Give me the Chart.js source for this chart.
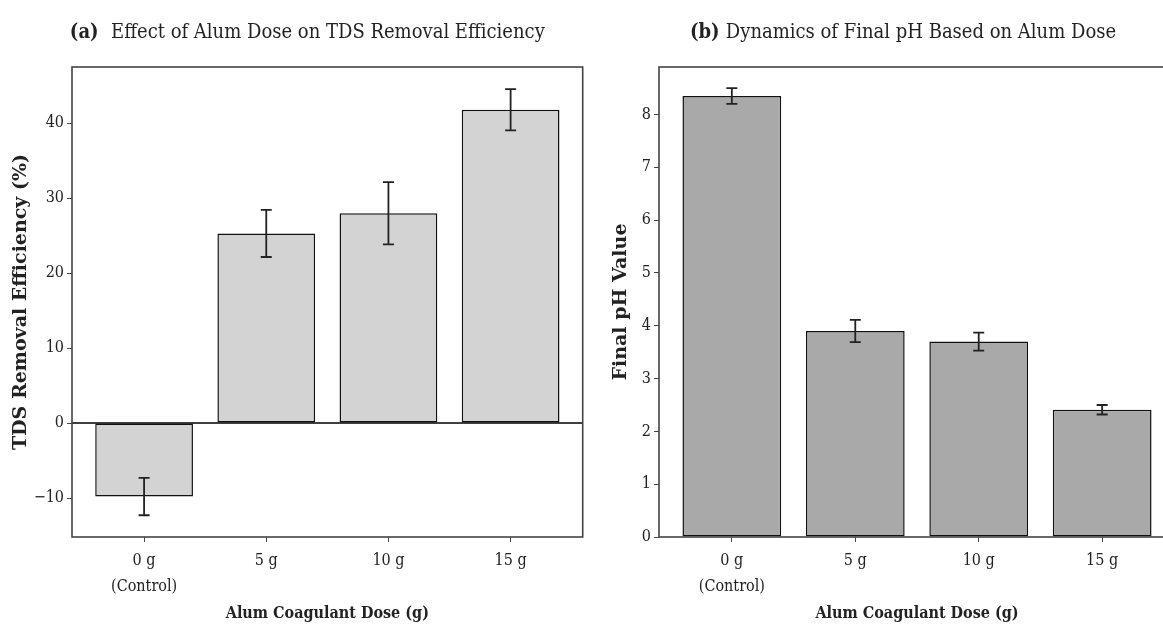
<!DOCTYPE html>
<html>
<head>
<meta charset="utf-8">
<script src="https://cdn.jsdelivr.net/npm/chart.js@4"></script>
<style>
  html, body { margin: 0; padding: 0; background: #fff; overflow: hidden; width: 1163px; height: 626px; }
  #tds-chart { position: absolute; left: 0; top: 0; }
  #ph-chart { position: absolute; left: 590px; top: 0; }
</style>
</head>
<body>
<canvas id="tds-chart" width="590" height="626"></canvas>
<canvas id="ph-chart" width="600" height="626"></canvas>
<script>
const doseLabels = [['0 g', '(Control)'], '5 g', '10 g', '15 g'];
const tdsRemoval = [-9.8, 25.3, 28.0, 41.8];
const tdsError = [2.5, 3.15, 4.15, 2.75];
const finalPh = [8.35, 3.9, 3.7, 2.41];
const phError = [0.15, 0.21, 0.17, 0.09];

const FONT = "'DejaVu Serif Condensed', 'Liberation Serif', serif";
const INK = '#222';

// frame, zero line, error bars and the panel title
const decorPlugin = {
    id: 'decor',
    afterDatasetsDraw(chart, args, opts) {
        const ctx = chart.ctx;
        const area = chart.chartArea;
        const xs = chart.scales.x, ys = chart.scales.y;
        ctx.save();
        if (opts.zeroLine) {
            const y0 = ys.getPixelForValue(0);
            ctx.strokeStyle = '#000';
            ctx.lineWidth = 1.5;
            ctx.beginPath();
            ctx.moveTo(area.left, y0);
            ctx.lineTo(area.right, y0);
            ctx.stroke();
        }
        ctx.strokeStyle = INK;
        ctx.lineWidth = 1.8;
        opts.values.forEach((v, i) => {
            const x = xs.getPixelForValue(i);
            const top = ys.getPixelForValue(v + opts.errors[i]);
            const bot = ys.getPixelForValue(v - opts.errors[i]);
            ctx.beginPath();
            ctx.moveTo(x, top); ctx.lineTo(x, bot);
            ctx.moveTo(x - 5.5, top); ctx.lineTo(x + 5.5, top);
            ctx.moveTo(x - 5.5, bot); ctx.lineTo(x + 5.5, bot);
            ctx.stroke();
        });
        ctx.strokeStyle = '#444';
        ctx.lineWidth = 1.6;
        ctx.strokeRect(area.left, area.top, area.right - area.left, area.bottom - area.top);

        // title: bold tag + normal text, centred on plot
        ctx.fillStyle = INK;
        ctx.textBaseline = 'middle';
        ctx.font = 'bold 20px ' + FONT;
        const tagW = ctx.measureText(opts.tag).width;
        ctx.font = '20px ' + FONT;
        const textW = ctx.measureText(opts.title).width;
        const cx = (area.left + area.right) / 2 + opts.titleShift;
        const x = cx - (tagW + textW) / 2;
        ctx.textAlign = 'left';
        ctx.font = 'bold 20px ' + FONT;
        ctx.fillText(opts.tag, x, 33);
        ctx.font = '20px ' + FONT;
        ctx.fillText(opts.title, x + tagW, 33);
        ctx.restore();
    }
};

function makeChart(id, values, errors, color, yMin, yMax, step, yTitle, yWidth, padRight, decor) {
    const ctx = document.getElementById(id).getContext('2d');
    return new Chart(ctx, {
        type: 'bar',
        data: {
            datasets: [{
                data: values.map((v, i) => ({ x: i, y: v })),
                backgroundColor: color,
                borderColor: '#111',
                borderWidth: 1.5,
                borderSkipped: false,
                barPercentage: 1,
                categoryPercentage: 0.8
            }]
        },
        options: {
            responsive: false,
            animation: false,
            layout: { padding: { top: 67, right: padRight, bottom: 0, left: 0 } },
            plugins: {
                legend: { display: false },
                tooltip: { enabled: false },
                decor: decor
            },
            scales: {
                x: {
                    type: 'linear',
                    min: -0.59,
                    max: 3.59,
                    offset: false,
                    afterBuildTicks: scale => { scale.ticks = doseLabels.map((_, i) => ({ value: i })); },
                    afterFit: scale => { scale.height = 89; },
                    grid: { offset: false, drawOnChartArea: false, drawTicks: true, tickLength: 5, color: '#444' },
                    border: { display: false },
                    ticks: {
                        callback: v => doseLabels[v],
                        color: INK,
                        padding: 6,
                        maxRotation: 0,
                        font: { family: FONT, size: 16, lineHeight: 1.6 }
                    },
                    title: {
                        display: true,
                        text: 'Alum Coagulant Dose (g)',
                        color: INK,
                        padding: { top: 0, bottom: 3 },
                        font: { family: FONT, size: 16, weight: 'bold' }
                    }
                },
                y: {
                    min: yMin,
                    max: yMax,
                    afterFit: scale => { scale.width = yWidth; },
                    grid: { drawOnChartArea: false, drawTicks: true, tickLength: 5, color: '#444' },
                    border: { display: false },
                    ticks: {
                        stepSize: step,
                        includeBounds: false,
                        callback: v => String(v).replace('-', '\u2212'),
                        color: INK,
                        padding: 3,
                        font: { family: FONT, size: 16 }
                    },
                    title: {
                        display: true,
                        text: yTitle,
                        color: INK,
                        padding: { top: decor.yTitlePad, bottom: 0 },
                        font: { family: 'DejaVu Serif', size: 19, weight: 'bold' }
                    }
                }
            }
        },
        plugins: [decorPlugin]
    });
}

makeChart('tds-chart', tdsRemoval, tdsError, '#d3d3d3', -15.2, 47.5, 10,
    'TDS Removal Efficiency (%)', 72, 7.3,
    { values: tdsRemoval, errors: tdsError, zeroLine: true, tag: '(a)  ', title: 'Effect of Alum Dose on TDS Removal Efficiency', titleShift: -20, yTitlePad: 10 });

makeChart('ph-chart', finalPh, phError, '#a9a9a9', 0, 8.9, 1,
    'Final pH Value', 69, 15,
    { values: finalPh, errors: phError, zeroLine: false, tag: '(b) ', title: 'Dynamics of Final pH Based on Alum Dose', titleShift: -14, yTitlePad: 20 });
</script>
</body>
</html>
